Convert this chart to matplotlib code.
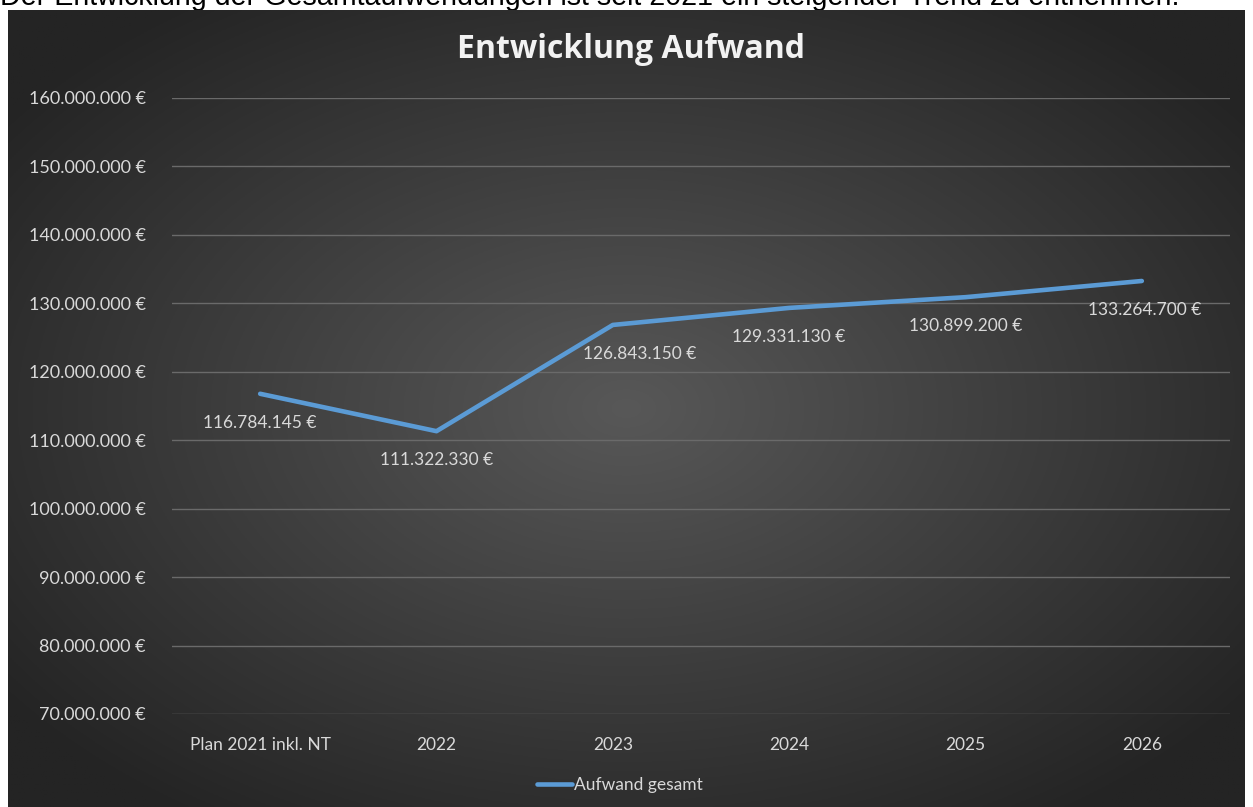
import matplotlib
matplotlib.use("Agg")
import matplotlib.pyplot as plt
import numpy as np

categories = ["Plan 2021 inkl. NT", "2022", "2023", "2024", "2025", "2026"]
aufwand = [116784145, 111322330, 126843150, 129331130, 130899200, 133264700]
y_ticks = list(range(70_000_000, 160_000_001, 10_000_000))
series_name = "Aufwand gesamt"
title = "Entwicklung Aufwand"
intro = "Der Entwicklung der Gesamtaufwendungen ist seit 2021 ein steigender Trend zu entnehmen."

W, H = 1253, 807
FONT = ["Lato", "DejaVu Sans"]
TXT = "#d9d9d9"
BLUE = "#5b9bd5"
TOP = 10  # white strip above the chart, px


def euro(v):
    return f"{v:,.0f} €".replace(",", ".")


fig = plt.figure(figsize=(W / 100, H / 100), dpi=100)
fig.patch.set_facecolor("white")

# sentence above the chart, mostly cut off by the page edge
fig.text(0.0, 1 - 5 / H, intro, fontsize=20.6, family=["Liberation Sans", "DejaVu Sans"],
         color="black", ha="left", va="baseline", zorder=-5)

# radial gradient chart background
bg = fig.add_axes([8 / W, 0, (1245 - 8) / W, (H - TOP) / H], zorder=-1)
gx, gy = np.meshgrid(np.linspace(-1, 1, 600), np.linspace(-1, 1, 400))
r = np.clip(np.sqrt(gx ** 2 + gy ** 2) / 1.25, 0, 1)
inner, outer = np.array([0x58, 0x58, 0x58]) / 255, np.array([0x24, 0x24, 0x24]) / 255
img = inner[None, None, :] * (1 - r[..., None]) + outer[None, None, :] * r[..., None]
bg.imshow(img, aspect="auto", extent=[0, 1, 0, 1])
bg.set_axis_off()

ax = fig.add_axes([172 / W, (H - 714) / H, (1230 - 172) / W, (714 - 98) / H])
ax.set_facecolor("none")
x = np.arange(len(categories))
ax.plot(x, aufwand, color=BLUE, lw=3.3, solid_capstyle="round", zorder=3,
        label=series_name)

label_dx = [0, 0, 19, 0, 0, 2]
for xi, v, dx in zip(x, aufwand, label_dx):
    ax.annotate(euro(v), (xi, v), xytext=(dx, -21), textcoords="offset points",
                ha="center", va="center", fontsize=12.5, family=FONT, color=TXT)

ax.set_xlim(-0.5, len(categories) - 0.5)
ax.set_ylim(y_ticks[0], y_ticks[-1])
ax.set_yticks(y_ticks)
ax.set_yticklabels([euro(v) for v in y_ticks], family=FONT, fontsize=13, color=TXT)
ax.set_xticks(x)
ax.set_xticklabels(categories, family=FONT, fontsize=12.5, color=TXT)
ax.tick_params(axis="y", length=0, pad=19)
ax.tick_params(axis="x", length=0, pad=16.5)
ax.grid(axis="y", color="#6a6a6a", lw=1)
ax.set_axisbelow(True)
for s in ax.spines.values():
    s.set_visible(False)

fig.text(631 / W, 1 - 49 / H, title, fontsize=23, family=["Open Sans", "DejaVu Sans"],
         weight="bold", color="#f2f2f2", ha="center", va="center")

leg = fig.legend(loc="center", bbox_to_anchor=(620 / W, 1 - 785 / H), frameon=False,
                 handlelength=2.0, handletextpad=0.1,
                 prop={"family": FONT, "size": 12.5})
for t in leg.get_texts():
    t.set_color(TXT)

fig.savefig("out.png", dpi=100)
